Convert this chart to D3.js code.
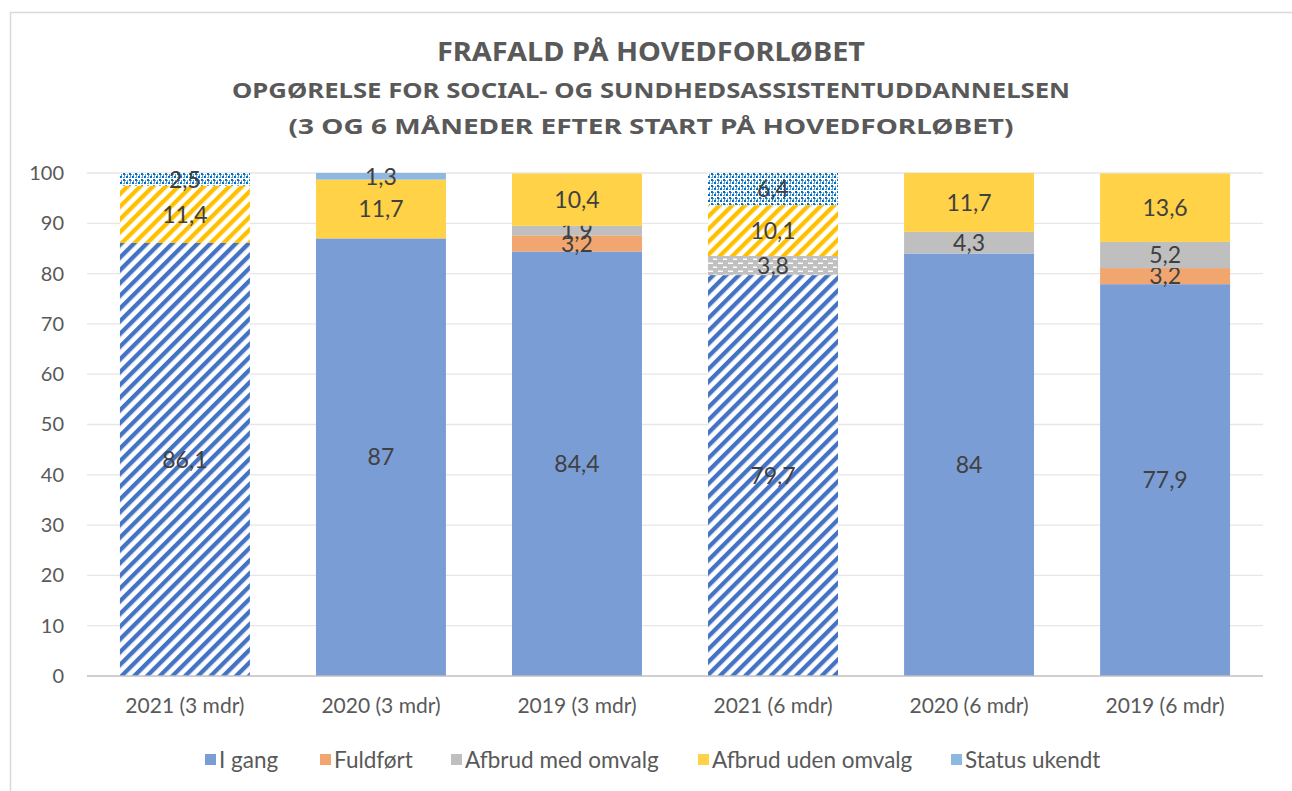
<!DOCTYPE html>
<html>
<head>
<meta charset="utf-8">
<script src="https://cdn.jsdelivr.net/npm/d3@7"></script>
<style>
  html, body { margin: 0; padding: 0; background: #fff; }
  svg { display: block; }
</style>
</head>
<body>
<svg id="chart" width="1292" height="791"></svg>
<script>
// ========= Data =========
const categories = ["2021 (3 mdr)", "2020 (3 mdr)", "2019 (3 mdr)", "2021 (6 mdr)", "2020 (6 mdr)", "2019 (6 mdr)"];
const seriesNames = ["I gang", "Fuldført", "Afbrud med omvalg", "Afbrud uden omvalg", "Status ukendt"];
const iGang = [86.1, 87, 84.4, 79.7, 84, 77.9];
const fuldfoert = [0, 0, 3.2, 0, 0, 3.2];
const afbrudMed = [0, 0, 1.9, 3.8, 4.3, 5.2];
const afbrudUden = [11.4, 11.7, 10.4, 10.1, 11.7, 13.6];
const statusUkendt = [2.5, 1.3, 0, 6.4, 0, 0];
const yTicks = [0, 10, 20, 30, 40, 50, 60, 70, 80, 90, 100];
// bars drawn with a pattern fill (the 2021 cohorts)
const patterned = ["2021 (3 mdr)", "2021 (6 mdr)"];

const seriesValues = [iGang, fuldfoert, afbrudMed, afbrudUden, statusUkendt];
const solidColors = ["#7b9dd6", "#f2a66f", "#bfbfbf", "#ffd247", "#8db8e2"];
const patternIds = ["pat-igang", "pat-fuld", "pat-med", "pat-uden", "pat-ukendt"];

// ========= Setup =========
const svg = d3.select("#chart");
const W = 1292, H = 791;
const margin = { top: 173, right: 29, bottom: 115, left: 87 };
const innerW = W - margin.left - margin.right;
const innerH = H - margin.top - margin.bottom;
const textColor = "#595959";
const font = "Lato, 'Open Sans', sans-serif";

// chart area border
svg.append("rect")
  .attr("x", 10.5).attr("y", 12.5)
  .attr("width", 1400).attr("height", 900)
  .attr("fill", "#fff")
  .attr("stroke", "#d9d9d9")
  .attr("stroke-width", 1.5);

// ========= Patterns =========
const defs = svg.append("defs");

function stripePattern(id, color) {
  const p = defs.append("pattern")
    .attr("id", id)
    .attr("patternUnits", "userSpaceOnUse")
    .attr("width", 9).attr("height", 9)
    .attr("patternTransform", "rotate(45)");
  p.append("rect").attr("width", 9).attr("height", 9).attr("fill", "#fff");
  p.append("rect").attr("width", 4.3).attr("height", 9).attr("fill", color);
}
stripePattern("pat-igang", "#4472c4");
stripePattern("pat-fuld", "#ed7d31");
stripePattern("pat-uden", "#ffc000");

// gray with short white dashes
{
  const p = defs.append("pattern")
    .attr("id", "pat-med")
    .attr("patternUnits", "userSpaceOnUse")
    .attr("width", 10).attr("height", 8);
  p.append("rect").attr("width", 10).attr("height", 8).attr("fill", "#c0c0c0");
  p.append("rect").attr("x", 1).attr("y", 1.5).attr("width", 5).attr("height", 1.5).attr("fill", "#fff");
  p.append("rect").attr("x", 6).attr("y", 5.5).attr("width", 5).attr("height", 1.5).attr("fill", "#fff");
}

// small blue grid / checker
{
  const p = defs.append("pattern")
    .attr("id", "pat-ukendt")
    .attr("patternUnits", "userSpaceOnUse")
    .attr("width", 6).attr("height", 6);
  p.append("rect").attr("width", 6).attr("height", 6).attr("fill", "#fff");
  p.append("rect").attr("x", 0).attr("y", 0).attr("width", 2).attr("height", 2).attr("fill", "#0070c0");
  p.append("rect").attr("x", 3).attr("y", 3).attr("width", 2).attr("height", 2).attr("fill", "#0070c0");
  p.append("rect").attr("x", 2).attr("y", 1).attr("width", 1).attr("height", 1).attr("fill", "#5b9bd5");
  p.append("rect").attr("x", 1).attr("y", 2).attr("width", 1).attr("height", 2).attr("fill", "#5b9bd5");
  p.append("rect").attr("x", 4).attr("y", 1).attr("width", 1).attr("height", 2).attr("fill", "#5b9bd5");
  p.append("rect").attr("x", 0).attr("y", 4).attr("width", 2).attr("height", 1).attr("fill", "#5b9bd5");
}

// ========= Title =========
const titleX = 651;
const titles = [
  { text: "FRAFALD PÅ HOVEDFORLØBET", y: 61, size: 26.5, len: 428 },
  { text: "OPGØRELSE FOR SOCIAL- OG SUNDHEDSASSISTENTUDDANNELSEN", y: 98, size: 22, len: 838 },
  { text: "(3 OG 6 MÅNEDER EFTER START PÅ HOVEDFORLØBET)", y: 134, size: 22, len: 725 }
];
svg.append("g")
  .selectAll("text")
  .data(titles)
  .join("text")
  .attr("x", titleX).attr("y", d => d.y)
  .attr("text-anchor", "middle")
  .attr("fill", textColor)
  .attr("font-family", "'Noto Sans', 'Open Sans', sans-serif")
  .attr("font-weight", "bold")
  .attr("font-size", d => d.size)
  .attr("textLength", d => d.len)
  .attr("lengthAdjust", "spacingAndGlyphs")
  .text(d => d.text);

// ========= Scales =========
const x = d3.scaleBand()
  .domain(categories)
  .range([0, innerW])
  .paddingInner(0.337)
  .paddingOuter(0.168);

const y = d3.scaleLinear()
  .domain([0, 100])
  .range([innerH, 0]);

const g = svg.append("g")
  .attr("transform", `translate(${margin.left},${margin.top})`);

// gridlines
g.append("g")
  .selectAll("line")
  .data(yTicks.filter(d => d > 0))
  .join("line")
  .attr("x1", 0).attr("x2", innerW)
  .attr("y1", d => y(d)).attr("y2", d => y(d))
  .attr("stroke", "#e6e6e6")
  .attr("stroke-width", 1.3);

// y axis labels
const yAxis = g.append("g")
  .call(d3.axisLeft(y).tickValues(yTicks).tickSize(0).tickPadding(23));
yAxis.select(".domain").remove();
yAxis.selectAll("text")
  .attr("fill", textColor)
  .attr("font-family", font)
  .attr("font-size", 20);

// ========= Stack =========
const table = categories.map((c, i) => {
  const row = { category: c };
  seriesNames.forEach((s, k) => { row[s] = seriesValues[k][i]; });
  return row;
});
const stacked = d3.stack().keys(seriesNames)(table);

const layers = g.append("g")
  .selectAll("g")
  .data(stacked)
  .join("g");

layers.selectAll("rect")
  .data((d, k) => d.map(p => ({ p, k })))
  .join("rect")
  .attr("x", d => x(d.p.data.category))
  .attr("width", x.bandwidth())
  .attr("y", d => y(d.p[1]))
  .attr("height", d => y(d.p[0]) - y(d.p[1]))
  .attr("fill", d => patterned.includes(d.p.data.category)
    ? `url(#${patternIds[d.k]})`
    : solidColors[d.k]);

// x axis
const xAxis = g.append("g")
  .attr("transform", `translate(0,${innerH})`)
  .call(d3.axisBottom(x).tickSize(0).tickPadding(22));
xAxis.select(".domain")
  .attr("stroke", "#bfbfbf")
  .attr("stroke-width", 1.5)
  .attr("d", `M0,0H${innerW}`);
xAxis.selectAll("text")
  .attr("fill", textColor)
  .attr("font-family", font)
  .attr("font-size", 21);

// data labels
const fmt = v => String(v).replace(".", ",");
layers.selectAll("text")
  .data(d => d.filter(p => p[1] - p[0] > 0))
  .join("text")
  .attr("x", p => x(p.data.category) + x.bandwidth() / 2)
  .attr("y", p => y((p[0] + p[1]) / 2))
  .attr("dy", "0.36em")
  .attr("text-anchor", "middle")
  .attr("fill", "#404040")
  .attr("font-family", font)
  .attr("font-size", 23)
  .text(p => fmt(+(p[1] - p[0]).toFixed(1)));

// ========= Legend =========
const legendX = [205, 320, 451, 698, 951];
const legend = svg.append("g")
  .selectAll("g")
  .data(seriesNames)
  .join("g")
  .attr("transform", (d, i) => `translate(${legendX[i]},760)`);
legend.append("rect")
  .attr("x", 0).attr("y", -6)
  .attr("width", 11).attr("height", 11)
  .attr("fill", (d, i) => solidColors[i]);
legend.append("text")
  .attr("x", 14).attr("y", 0)
  .attr("dy", "0.35em")
  .attr("fill", textColor)
  .attr("font-family", font)
  .attr("font-size", 22.5)
  .text(d => d);
</script>
</body>
</html>
